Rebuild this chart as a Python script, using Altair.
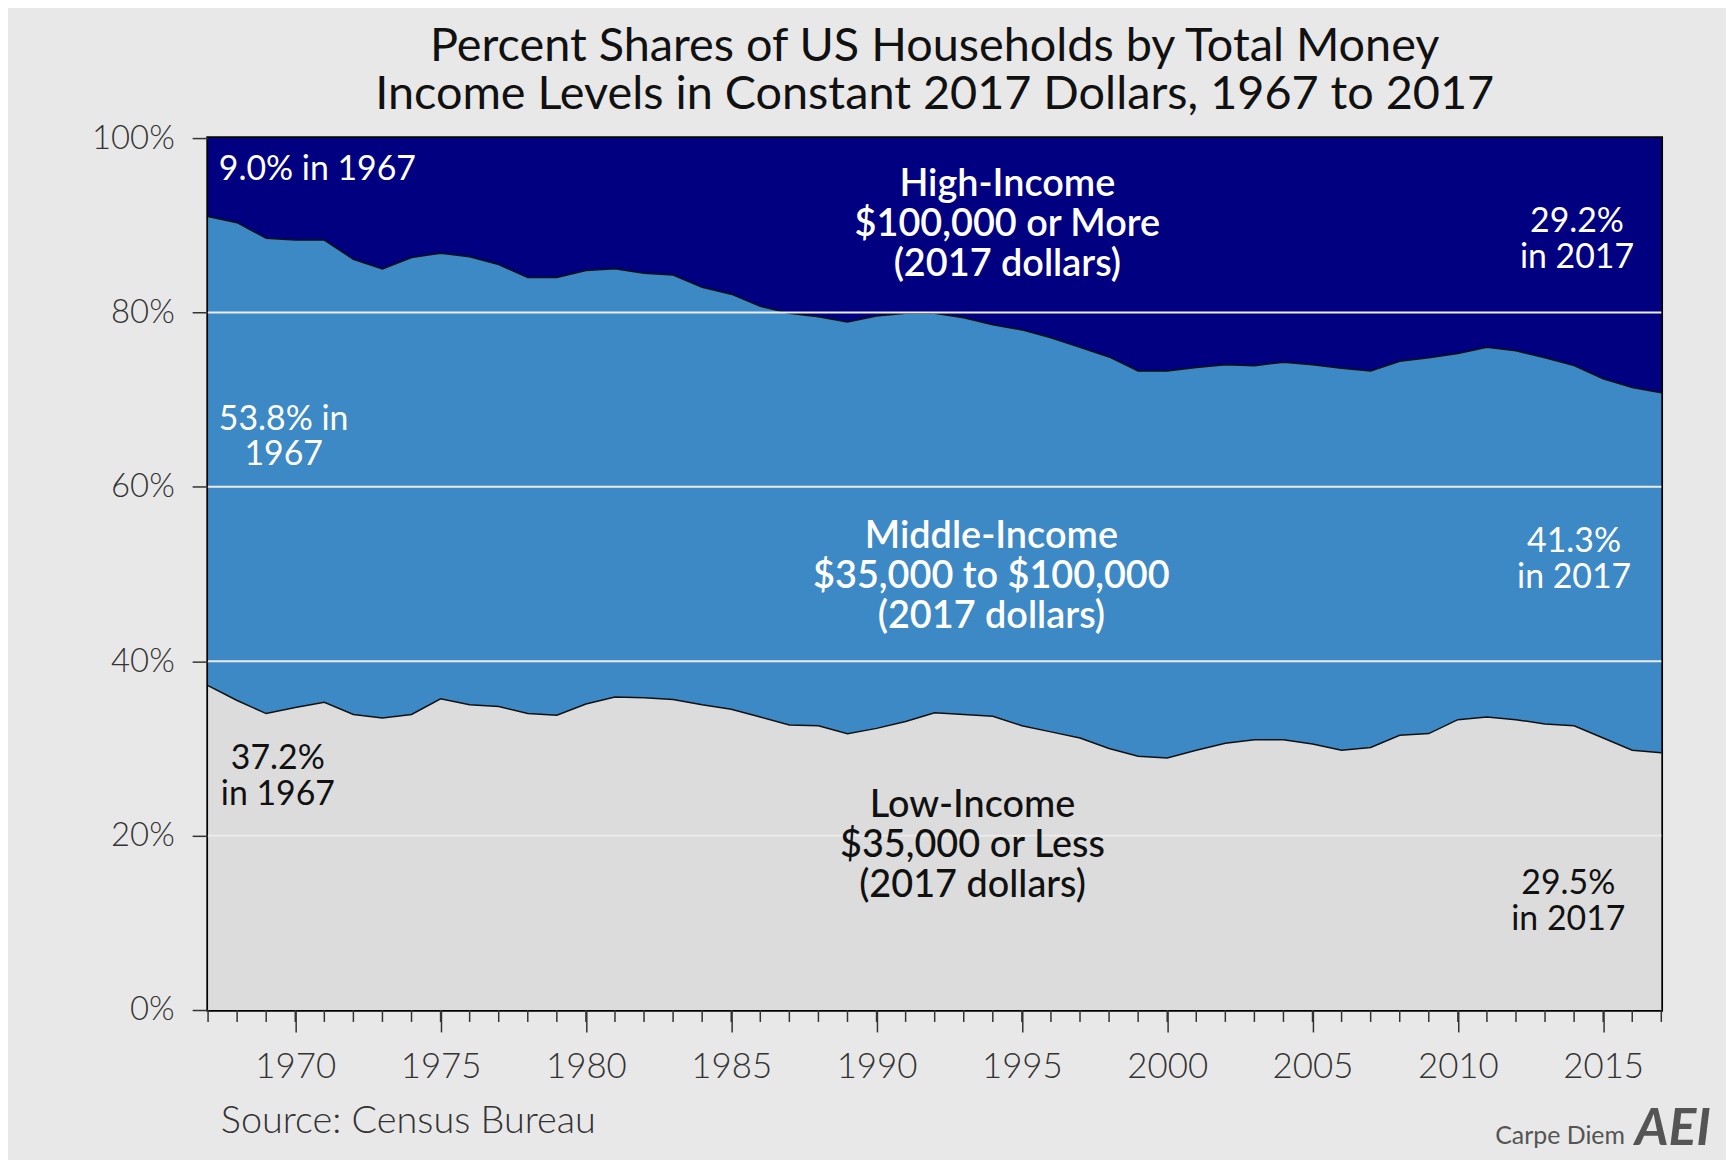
import altair as alt
import pandas as pd

# ---------------- data ----------------
years = list(range(1967, 2018))
low_share = [37.2, 35.5, 34.0, 34.7, 35.3, 33.9, 33.5, 33.9, 35.7, 35.0,
             34.8, 34.0, 33.8, 35.1, 35.9, 35.8, 35.6, 35.0, 34.5, 33.6,
             32.7, 32.6, 31.7, 32.3, 33.1, 34.1, 33.9, 33.7, 32.6, 31.9,
             31.2, 30.0, 29.1, 28.9, 29.8, 30.6, 31.0, 31.0, 30.5, 29.8,
             30.1, 31.5, 31.7, 33.3, 33.6, 33.3, 32.8, 32.6, 31.2, 29.8,
             29.5]
high_share = [9.0, 9.7, 11.5, 11.7, 11.7, 13.9, 15.0, 13.7, 13.2, 13.6,
              14.5, 16.0, 16.0, 15.2, 15.0, 15.5, 15.7, 17.1, 17.9, 19.3,
              20.1, 20.5, 21.1, 20.4, 20.1, 20.1, 20.6, 21.4, 22.0, 22.9,
              24.0, 25.1, 26.7, 26.7, 26.3, 26.0, 26.1, 25.7, 26.0, 26.4,
              26.7, 25.6, 25.2, 24.7, 24.0, 24.4, 25.2, 26.1, 27.6, 28.6,
              29.2]
band_names = ["Low", "Middle", "High"]
band_colors = ["#dcdcdc", "#3d89c6", "#000080"]
x_label_years = [1970, 1975, 1980, 1985, 1990, 1995, 2000, 2005, 2010, 2015]
y_tick_values = [0, 20, 40, 60, 80, 100]
grid_levels = [20, 40, 60, 80]

title_lines = ["Percent Shares of US Households by Total Money",
               "Income Levels in Constant 2017 Dollars, 1967 to 2017"]

W, H = 1460, 876
FONT = "Lato"

# ---------------- tables ----------------
rows = []
line_rows = []
for yr, lo, hi in zip(years, low_share, high_share):
    top = 100 - hi
    rows.append(dict(year=yr, band="Low", lo=0, hi=lo))
    rows.append(dict(year=yr, band="Middle", lo=lo, hi=top))
    rows.append(dict(year=yr, band="High", lo=top, hi=100))
    line_rows.append(dict(year=yr, series="low", v=lo))
    line_rows.append(dict(year=yr, series="top", v=top))
band_df = pd.DataFrame(rows)
line_df = pd.DataFrame(line_rows)

x_scale = alt.Scale(domain=[1967, 2017], nice=False, zero=False)
y_scale = alt.Scale(domain=[0, 100], nice=False)

areas = alt.Chart(band_df).mark_area(interpolate="linear").encode(
    x=alt.X("year:Q", scale=x_scale,
            axis=alt.Axis(values=x_label_years, format="d", title=None,
                          tickSize=22, tickWidth=1.5, tickColor="#333",
                          labelFont=FONT, labelFontSize=35, labelFontWeight=300,
                          labelColor="#333", labelPadding=18, domain=False,
                          grid=False, labelFlush=False)),
    y=alt.Y("lo:Q", scale=y_scale,
            axis=alt.Axis(values=y_tick_values, labelExpr="datum.value + '%'",
                          title=None, tickSize=16, tickWidth=1.5, tickColor="#333",
                          labelFont=FONT, labelFontSize=33, labelFontWeight=300,
                          labelColor="#333", labelPadding=18, domain=False,
                          grid=False)),
    y2="hi:Q",
    color=alt.Color("band:N", scale=alt.Scale(domain=band_names, range=band_colors),
                    legend=None),
    order=alt.Order("band:N"),
)

lines = alt.Chart(line_df).mark_line(color="#111", strokeWidth=1.5).encode(
    x=alt.X("year:Q", scale=x_scale),
    y=alt.Y("v:Q", scale=y_scale),
    detail="series:N",
)

grid = alt.Chart(pd.DataFrame({"v": grid_levels})).mark_rule(
    color="#ececec", strokeWidth=2).encode(y=alt.Y("v:Q", scale=y_scale))

minor_ticks = alt.Chart(pd.DataFrame({"year": years})).mark_rule(
    color="#333", strokeWidth=1.5).encode(
    x=alt.X("year:Q", scale=x_scale), y=alt.value(H), y2=alt.value(H + 12))


def text_layer(xs, ys, texts, color, size, weight="normal", align="center",
               line_height=36, font=FONT, style=None):
    # ys give the position of the first line of each text
    df = pd.DataFrame({"year": xs, "pct": ys, "t": texts})
    kw = dict(color=color, fontSize=size, fontWeight=weight, align=align,
              baseline="middle", lineBreak="\n", lineHeight=line_height, font=font)
    if style:
        kw["fontStyle"] = style
    return alt.Chart(df).mark_text(**kw).encode(
        x=alt.X("year:Q", scale=x_scale), y=alt.Y("pct:Q", scale=y_scale), text="t:N")


ann = [
    text_layer([1967.37], [96.3], ["9.0% in 1967"], "white", 34, align="left"),
    text_layer([2014.1, 1969.6, 2014.0], [90.4, 67.7, 53.7],
               ["29.2%\nin 2017", "53.8% in\n1967", "41.3%\nin 2017"], "white", 34),
    text_layer([1994.5, 1993.95], [94.6, 54.2],
               ["High-Income\n$100,000 or More\n(2017 dollars)",
                "Middle-Income\n$35,000 to $100,000\n(2017 dollars)"],
               "white", 38, weight=600, line_height=40),
    text_layer([1969.4, 2013.8], [28.8, 14.4],
               ["37.2%\nin 1967", "29.5%\nin 2017"], "#111", 34),
    text_layer([1993.3], [23.4], ["Low-Income\n$35,000 or Less\n(2017 dollars)"],
               "#111", 38, weight=500, line_height=40),
    text_layer([1967.44], [-12.9], ["Source: Census Bureau"], "#333", 38,
               weight=300, align="left"),
    text_layer([2015.75], [-14.4], ["Carpe Diem"], "#555", 25, align="right"),
    text_layer([2017.4], [-13.6], ["AEI"], "#555", 52, weight="bold", style="italic"),
]

chart = alt.layer(areas, lines, grid, minor_ticks, *ann).properties(
    width=W, height=H,
    title=alt.TitleParams(text=title_lines, fontSize=47, font=FONT,
                          fontWeight="normal", color="#111", anchor="middle",
                          offset=3, lineHeight=48),
    autosize=alt.AutoSizeParams(type="none"),
    padding={"left": 201, "top": 128, "right": 65, "bottom": 148},
    background="#e8e8e8",
).configure_view(stroke="black", strokeWidth=3.5)

chart.save("out.html", embed_options={"renderer": "svg", "actions": False})
